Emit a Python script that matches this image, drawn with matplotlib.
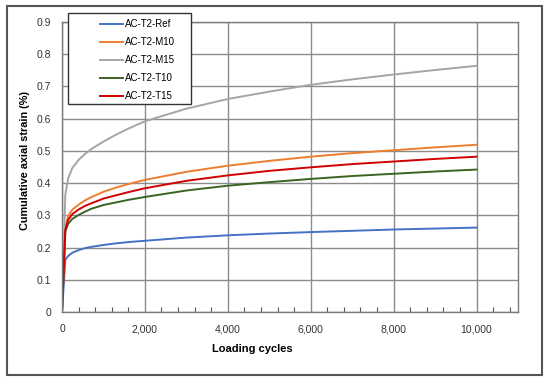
import matplotlib
matplotlib.use('Agg')
import matplotlib.pyplot as plt
from matplotlib.patches import Rectangle
from matplotlib.ticker import MultipleLocator, FuncFormatter

plt.rcParams['font.family'] = ['Liberation Sans', 'DejaVu Sans']

# loading cycles (shared by all series)
cycles = [0, 80, 150, 250, 400, 550, 700, 1000, 1300, 1600, 2000, 3000,
          4000, 5000, 6000, 7000, 8000, 9000, 10000]

# cumulative axial strain (%)
ref = [0, 0.162, 0.174, 0.184, 0.192, 0.198, 0.202, 0.208, 0.213, 0.217,
       0.221, 0.231, 0.238, 0.2435, 0.248, 0.252, 0.256, 0.259, 0.262]
m10 = [0, 0.262, 0.298, 0.318, 0.333, 0.346, 0.356, 0.373, 0.386, 0.397,
       0.410, 0.435, 0.454, 0.469, 0.482, 0.493, 0.502, 0.511, 0.519]
m15 = [0, 0.365, 0.415, 0.447, 0.472, 0.490, 0.505, 0.529, 0.550, 0.569,
       0.592, 0.631, 0.661, 0.684, 0.705, 0.722, 0.737, 0.751, 0.764]
t10 = [0, 0.25, 0.274, 0.289, 0.301, 0.311, 0.320, 0.332, 0.340, 0.348,
       0.357, 0.377, 0.392, 0.403, 0.413, 0.422, 0.429, 0.436, 0.442]
t15 = [0, 0.255, 0.286, 0.304, 0.318, 0.329, 0.337, 0.352, 0.362, 0.372,
       0.384, 0.407, 0.424, 0.438, 0.449, 0.459, 0.467, 0.475, 0.482]

names = ['AC-T2-Ref', 'AC-T2-M10', 'AC-T2-M15', 'AC-T2-T10', 'AC-T2-T15']
colors = ['#4472C4', '#ED7D31', '#A5A5A5', '#3B6423', '#D00000']

fig = plt.figure(figsize=(5.5, 3.83), dpi=100)
ax = fig.add_axes([62 / 550, 1 - 312 / 383, 456 / 550, 290 / 383])

for ys, name, c in zip([ref, m10, m15, t10, t15], names, colors):
    ax.plot(cycles, ys, color=c, lw=1.4, label=name)

ax.set_xlim(0, 11000)
ax.set_ylim(0, 0.9)
ax.xaxis.set_major_locator(MultipleLocator(2000))
ax.xaxis.set_minor_locator(MultipleLocator(400))
ax.yaxis.set_major_locator(MultipleLocator(0.1))
ax.xaxis.set_major_formatter(FuncFormatter(lambda v, p: '{:,.0f}'.format(v)))
ax.yaxis.set_major_formatter(FuncFormatter(lambda v, p: '0' if abs(v) < 1e-9 else '{:.1f}'.format(v)))
ax.tick_params(axis='x', which='major', length=0, pad=9, labelsize=7.5, colors='#333333')
ax.tick_params(axis='x', which='minor', direction='in', length=3.5, color='#555555', width=0.8)
ax.tick_params(axis='y', length=0, pad=8, labelsize=7.5, colors='#333333')
ax.grid(True, which='major', color='#8c8c8c', lw=1.0)
for s in ax.spines.values():
    s.set_color('#7a7a7a')
    s.set_linewidth(1.0)

fig.text(252 / 550, 1 - 349 / 383, 'Loading cycles', ha='center', va='center',
         fontsize=8, fontweight='bold')
fig.text(25 / 550, 1 - 160 / 383, 'Cumulative axial strain (%)', ha='center', va='center',
         rotation=90, fontsize=7.8, fontweight='bold')

# legend box drawn separately so the padding matches
fig.patches.append(Rectangle((68 / 550, 1 - 104 / 383), 123 / 550, 91 / 383,
                             transform=fig.transFigure, facecolor='white',
                             edgecolor='#333333', lw=1.0, zorder=3))
leg = fig.legend(loc='upper left', bbox_to_anchor=(92 / 550, 1 - 11 / 383),
                 frameon=False, fontsize=7, handlelength=2.3, handletextpad=0.2,
                 labelspacing=0.82, borderpad=0.35)
leg.set_zorder(4)

# outer chart frame
fig.patches.append(Rectangle((7 / 550, 1 - 375 / 383), 535 / 550, 369 / 383,
                             transform=fig.transFigure, fill=False,
                             edgecolor='#555555', lw=1.5))

plt.savefig('out.png', dpi=100)
